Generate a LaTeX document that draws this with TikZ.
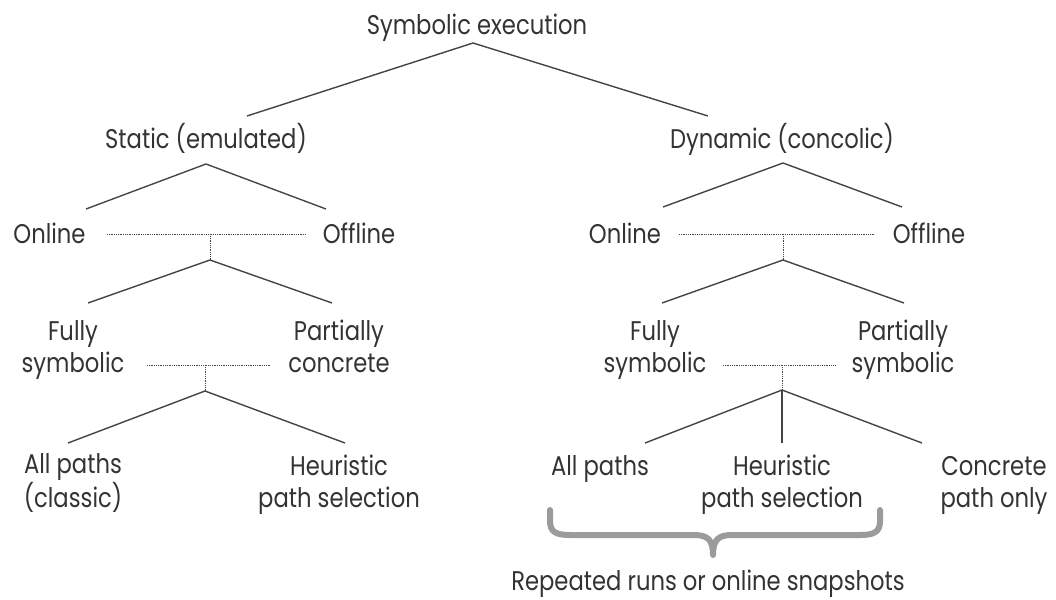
\documentclass[tikz,border=0pt]{standalone}
\usepackage{fontspec}
\setmainfont[FakeStretch=0.84]{Poppins}
\begin{document}
\begin{tikzpicture}[x=1pt,y=-1pt,
  lbl/.style={inner sep=0pt,anchor=base,align=center,text=txt,font=\fontsize{27}{31.5}\selectfont},
  branch/.style={draw=ln,line width=1.4pt},
  dots/.style={draw=ln,line width=0.8pt,dash pattern=on 0.8pt off 1pt},
  bracestyle/.style={draw=brc,line width=6pt,line cap=round,line join=round}]
\definecolor{txt}{HTML}{333333}
\definecolor{ln}{HTML}{444444}
\definecolor{brc}{HTML}{9B9B9B}
\useasboundingbox (0,0) rectangle (1056,599);
% text nodes
\node[lbl] (title) at (477,35) {Symbolic execution};
\node[lbl] (static) at (206,148) {Static (emulated)};
\node[lbl] (dynamic) at (782,148) {Dynamic (concolic)};
\node[lbl] (onA) at (49.5,243) {Online};
\node[lbl] (offA) at (359,243) {Offline};
\node[lbl] (onB) at (625,243) {Online};
\node[lbl] (offB) at (929,243) {Offline};
\node[lbl] (fullyA) at (73,372) {Fully\\symbolic};
\node[lbl] (partA) at (339,372) {Partially\\concrete};
\node[lbl] (fullyB) at (655,372) {Fully\\symbolic};
\node[lbl] (partB) at (903,372) {Partially\\symbolic};
\node[lbl] (allA) at (73,507) {All paths\\(classic)};
\node[lbl] (heurA) at (339,507) {Heuristic\\path selection};
\node[lbl] (allB) at (600,475) {All paths};
\node[lbl] (heurB) at (782,507) {Heuristic\\path selection};
\node[lbl] (concB) at (994,507) {Concrete\\path only};
\node[lbl] (rep) at (708,590) {Repeated runs or online snapshots};
% junctions and ends
\coordinate (j0) at (473,43);
\coordinate (j0l) at (247,116);
\coordinate (j0r) at (708,116);
\coordinate (j1) at (206,164);
\coordinate (j1l) at (86,209);
\coordinate (j1r) at (326,209);
\coordinate (j2) at (783,163);
\coordinate (j2l) at (663,207);
\coordinate (j2r) at (902,207);
\coordinate (d1a) at (107,234);
\coordinate (d1b) at (306,234);
\coordinate (d1m) at (210,236);
\coordinate (j3) at (210,260);
\coordinate (j3l) at (88,303);
\coordinate (j3r) at (332,303);
\coordinate (d2a) at (679,234);
\coordinate (d2b) at (874,234);
\coordinate (d2m) at (783,236);
\coordinate (j4) at (783,260);
\coordinate (j4l) at (662,303);
\coordinate (j4r) at (904,303);
\coordinate (d3a) at (147,365);
\coordinate (d3b) at (270,365);
\coordinate (d3m) at (205,367);
\coordinate (j5) at (205,391);
\coordinate (j5l) at (68,443);
\coordinate (j5r) at (345,443);
\coordinate (d4a) at (723,365);
\coordinate (d4b) at (836,365);
\coordinate (d4m) at (782,367);
\coordinate (j6) at (782,390);
\coordinate (j6l) at (645,443);
\coordinate (j6c) at (782,443);
\coordinate (j6r) at (922,443);
% branches
\draw[branch] (j0l) -- (j0) -- (j0r);
\draw[branch] (j1l) -- (j1) -- (j1r);
\draw[branch] (j2l) -- (j2) -- (j2r);
\draw[branch] (j3l) -- (j3) -- (j3r);
\draw[branch] (j4l) -- (j4) -- (j4r);
\draw[branch] (j5l) -- (j5) -- (j5r);
\draw[branch] (j6l) -- (j6) -- (j6r);
\draw[branch] (j6) -- (j6c);
% dotted links
\draw[dots] (d1a) -- (d1b);
\draw[dots] (d1m) -- (j3);
\draw[dots] (d2a) -- (d2b);
\draw[dots] (d2m) -- (j4);
\draw[dots] (d3a) -- (d3b);
\draw[dots] (d3m) -- (j5);
\draw[dots] (d4a) -- (d4b);
\draw[dots] (d4m) -- (j6);
% brace
\draw[bracestyle] (550,510) -- (550,521) .. controls (550,532) and (556,535) .. (570,535)
  -- (694,535) .. controls (708,535) and (713,540) .. (713,555)
  .. controls (713,540) and (718,535) .. (732,535)
  -- (860,535) .. controls (874,535) and (880,532) .. (880,521) -- (880,510);
\end{tikzpicture}
\end{document}
